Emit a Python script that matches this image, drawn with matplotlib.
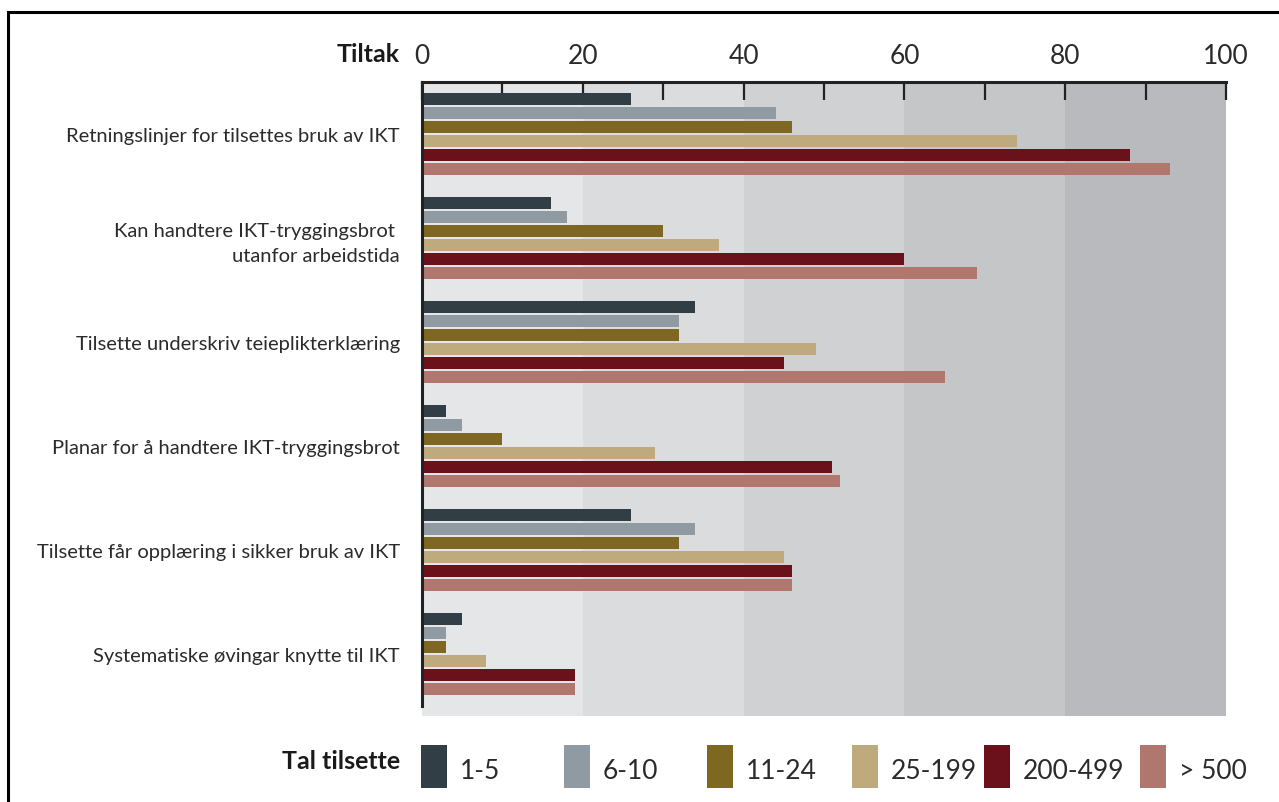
import matplotlib
matplotlib.use("Agg")
import matplotlib.pyplot as plt
from matplotlib.patches import Rectangle

# data (percent)
tiltak = [
    "Retningslinjer for tilsettes bruk av IKT",
    "Kan handtere IKT-tryggingsbrot \nutanfor arbeidstida",
    "Tilsette underskriv teieplikterklæring",
    "Planar for å handtere IKT-tryggingsbrot",
    "Tilsette får opplæring i sikker bruk av IKT",
    "Systematiske øvingar knytte til IKT",
]
grupper = ["1-5", "6-10", "11-24", "25-199", "200-499", "> 500"]
v_1_5 = [26, 16, 34, 3, 26, 5]
v_6_10 = [44, 18, 32, 5, 34, 3]
v_11_24 = [46, 30, 32, 10, 32, 3]
v_25_199 = [74, 37, 49, 29, 45, 8]
v_200_499 = [88, 60, 45, 51, 46, 19]
v_500 = [93, 69, 65, 52, 46, 19]
serier = [v_1_5, v_6_10, v_11_24, v_25_199, v_200_499, v_500]

farger = ["#323e46", "#8f9aa2", "#7e6721", "#bfaa7e", "#6a111b", "#b0776f"]
band_farger = ["#e5e6e8", "#dbdcde", "#d0d1d3", "#c5c6c8", "#b9babd"]
tekst = "#2b2b2b"
font = "Lato"

W, H = 1279, 803
fig = plt.figure(figsize=(W / 100, H / 100), dpi=100)
fig.patch.set_facecolor("white")

# axes placed in pixel terms
ax_l, ax_r, ax_t, ax_b = 422, 1226, 83, 717
ax = fig.add_axes([ax_l / W, 1 - ax_b / H, (ax_r - ax_l) / W, (ax_b - ax_t) / H])

# vertical layout in "bar units" (one bar + gap = 1)
enhet = 14.0
gruppe_steg = 104 / enhet
start = (100 - ax_t) / enhet
hoyde = 12 / enhet

for k in range(5):
    ax.axvspan(k * 20, (k + 1) * 20, color=band_farger[k], zorder=0, lw=0)

for j, (vals, c) in enumerate(zip(serier, farger)):
    ys = [start + i * gruppe_steg + j for i in range(len(tiltak))]
    ax.barh(ys, vals, height=hoyde, color=c, zorder=2, lw=0)

ax.set_xlim(0, 100)
ax.set_ylim((ax_b - ax_t) / enhet, 0)

# spines
for s in ["right", "bottom"]:
    ax.spines[s].set_visible(False)
ax.spines["top"].set_linewidth(2.2)
ax.spines["top"].set_color("#222222")
ax.spines["left"].set_linewidth(2.2)
ax.spines["left"].set_color("#222222")
ax.spines["left"].set_bounds((ax_b - ax_t - 10) / enhet, 0)

ax.xaxis.tick_top()
ax.set_xticks(range(0, 101, 20))
ax.set_xticks(range(10, 100, 20), minor=True)
ax.tick_params(axis="x", which="both", direction="in", length=13, width=1.6,
               color="#222222", pad=10, labelsize=19, labelcolor=tekst)
for lab in ax.get_xticklabels():
    lab.set_family(font)

grp_midt = [start + i * gruppe_steg + 2.5 for i in range(len(tiltak))]
ax.set_yticks(grp_midt)
ax.set_yticklabels(tiltak, fontsize=14.5, color=tekst, family=font, linespacing=1.5)
ax.tick_params(axis="y", length=0, pad=16)

# titles
fig.text(400 / W, 1 - 55 / H, "Tiltak", ha="right", va="center",
         fontsize=18, fontweight="bold", color="#1a1a1a", family=font)
fig.text(400 / W, 1 - 762 / H, "Tal tilsette", ha="right", va="center",
         fontsize=18, fontweight="bold", color="#1a1a1a", family=font)

# legend
patch_x = [421, 564, 707, 852, 984, 1140]
for x, c, g in zip(patch_x, farger, grupper):
    fig.add_artist(Rectangle((x / W, 1 - 789 / H), 26 / W, 43 / H,
                             transform=fig.transFigure, color=c, lw=0))
    fig.text((x + 39) / W, 1 - 772 / H, g, ha="left", va="center",
             fontsize=19, color=tekst, family=font)

# outer frame (clipped at right and bottom)
fig.add_artist(Rectangle((7.5 / W, -0.1), 1.2, 1.1 - 12.5 / H,
                         transform=fig.transFigure, fill=False,
                         edgecolor="black", lw=2.2))

fig.savefig("out.png", dpi=100)
